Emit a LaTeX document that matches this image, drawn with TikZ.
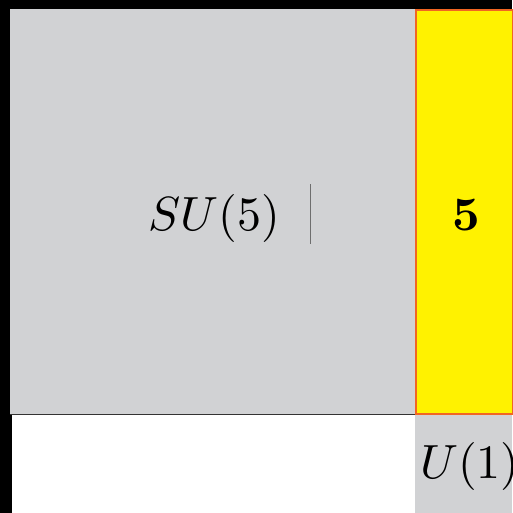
\documentclass[tikz,border=0pt]{standalone}
\usepackage{amsmath}
\usepackage{tikz}
\usetikzlibrary{positioning}

\definecolor{panelgray}{RGB}{209,210,212}
\definecolor{repyellow}{RGB}{255,242,0}
\definecolor{reporange}{RGB}{241,101,34}
\definecolor{cursorgray}{RGB}{110,110,110}

\newcommand{\biglabel}[1]{\scalebox{4.8}{#1}}

\begin{document}
\begin{tikzpicture}[
    x=1pt,
    y=-1pt,
    every node/.style={inner sep=0pt},
    block/.style={fill=panelgray}
]
\useasboundingbox (0,0) rectangle (512,513);

% Background
\fill[black] (0,0) rectangle (512,513);
\fill[white] (12,415) rectangle (512,513);

% Blocks
\fill[block] (10,9) rectangle (415,414);
\draw[black!80,line width=1pt] (10,414.5) -- (415,414.5);
\fill[block] (415,415) rectangle (512,513);
\draw[fill=repyellow,draw=reporange,line width=2.2pt] (416,10) rectangle (513,414);

% Labels
\node[anchor=base] (su5) at (214.5,230) {\biglabel{$SU(5)$}};
\node[anchor=base] (five) at (466,230) {\biglabel{$\boldsymbol{5}$}};
\node[anchor=base west] (u1) at (420,478) {\biglabel{$U(1)$}};

% Cursor
\coordinate (c1) at (310,184);
\coordinate (c2) at (310,244);
\draw[cursorgray,line width=1pt] (c1) -- (c2);

\end{tikzpicture}
\end{document}
